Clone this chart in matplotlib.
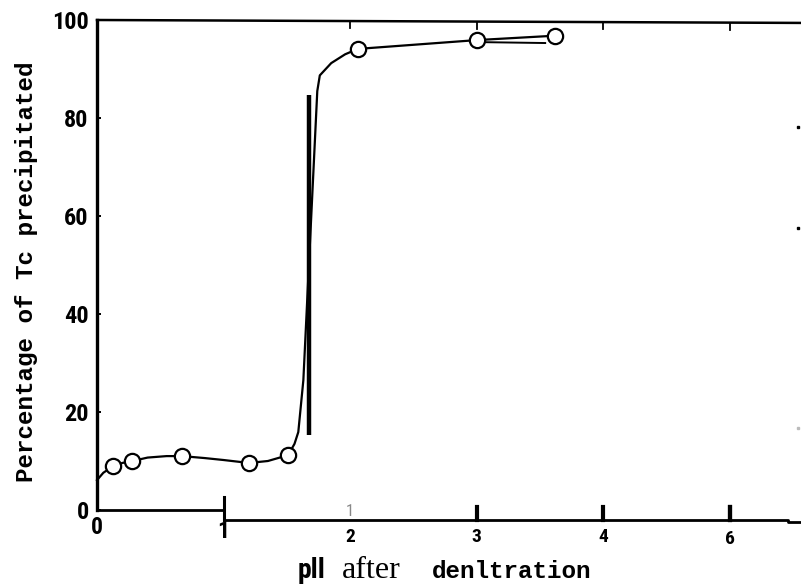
"""
Percentage of Tc precipitated vs pH after denitration (scanned figure redraw).
"""

import numpy as np
import matplotlib
matplotlib.use("Agg")
import matplotlib.pyplot as plt
from matplotlib import font_manager


# =========================
# Data
# =========================

# measured points (open circles)
ph_points = [0.13, 0.28, 0.67, 1.20, 1.51, 2.06, 3.00, 3.62]
tc_points = [9.0, 10.0, 11.0, 9.6, 11.2, 94.1, 95.9, 96.8]

# hand-drawn trend curve
curve_ph = [0.0, 0.05, 0.13, 0.20, 0.28, 0.40, 0.55, 0.67, 0.85, 1.00,
            1.20, 1.35, 1.51, 1.56, 1.59, 1.63, 1.74, 1.76, 1.85, 1.96,
            2.06, 3.00, 3.62]
curve_tc = [6.1, 7.6, 9.0, 9.6, 10.0, 10.7, 11.0, 11.0, 10.6, 10.2,
            9.6, 10.0, 11.2, 13.5, 15.9, 26.5, 85.5, 88.7, 91.2, 93.0,
            94.1, 95.9, 96.8]

# thick vertical bar at the jump
bar_ph = [1.675, 1.675]
bar_tc = [15.3, 84.7]

# second short line under the plateau
plateau_ph = [2.99, 3.54]
plateau_tc = [95.5, 95.3]

y_ticks = [0, 20, 40, 60, 80, 100]
x_tick_pos = [0, 1, 2, 3, 4, 5]
x_tick_labels = ["0", "1", "2", "3", "4", "6"]
x_label_drop = [-3.5, -4.4, -5.5, -5.5, -5.5, -6.0]   # labels sit unevenly in the scan

W, H = 801, 586
PX_PER_X = 126.6


def fx(px):
    return px / W


def fy(py):
    return 1 - py / H


def pick_font(names):
    """Return the first installed family of the list."""
    for name in names:
        try:
            font_manager.findfont(font_manager.FontProperties(family=name),
                                  fallback_to_default=False)
            return name
        except Exception:
            pass
    return "DejaVu Sans"


def main():
    narrow = pick_font(["Liberation Sans Narrow", "DejaVu Sans Condensed",
                        "Roboto Condensed", "Open Sans Condensed",
                        "Noto Sans Condensed", "Arial Narrow"])
    stretch = "normal" if narrow != "DejaVu Sans" else "condensed"

    fig = plt.figure(figsize=(W / 100, H / 100), dpi=100)
    ax = fig.add_axes([fx(97), 1 - 510 / H, (W - 97) / W, 490 / H])
    ax.set_xlim(0, (W - 97) / PX_PER_X)
    ax.set_ylim(0, 100)

    for s in ["top", "right", "bottom"]:
        ax.spines[s].set_visible(False)
    ax.spines["left"].set_linewidth(2.4)

    # y axis ticks and labels
    ax.set_yticks(y_ticks)
    ax.set_yticklabels([str(v) for v in y_ticks], family=narrow,
                       fontweight="bold", fontsize=17.5, fontstretch=stretch)
    ax.tick_params(axis="y", direction="in", length=3, width=1.4, pad=6)
    ax.set_xticks([])

    # broken bottom axis as in the scan
    ax.plot([0, 1], [0, 0], color="black", lw=2.0, clip_on=False)
    ax.plot([1, 1], [2.6, -2.04], color="black", lw=2.2, clip_on=False)
    ax.plot([1, 5.46, 5.46, 5.6], [-2.04, -2.04, -2.45, -2.45],
            color="black", lw=2.0, clip_on=False)
    for xp in x_tick_pos[3:] + [5]:
        ax.plot([xp, xp], [0.6, -2.0], color="black", lw=3.0, clip_on=False)

    # top frame line (slightly tilted) with downward ticks
    ax.plot([0, 5.6], [100, 99.4], color="black", lw=1.8, clip_on=False)
    for xp in [2, 3, 4, 5]:
        ytop = 100 - 0.6 * xp / 5.6
        ax.plot([xp, xp], [ytop, ytop - 1.5], color="black", lw=1.3,
                clip_on=False)

    # faint ticks of the right frame at the cut edge
    ax.plot([5.54], [78.2], "s", ms=2, color="black", clip_on=False)
    ax.plot([5.54], [57.6], "s", ms=2, color="black", clip_on=False)
    ax.plot([5.54], [16.7], "s", ms=1.5, color="#bbbbbb", clip_on=False)

    # x tick labels
    for xp, lab, dy in zip(x_tick_pos, x_tick_labels, x_label_drop):
        size = 17 if lab in ("0", "1") else 14
        ax.text(xp, dy, lab, ha="center", va="center", family=narrow,
                fontstretch=stretch, fontweight="bold", fontsize=size,
                clip_on=False)
    # ghost "1" above the axis near 2
    ax.text(2.0, -0.4, "1", ha="center", va="center", family=narrow,
            fontsize=12, color="#888888", clip_on=False)

    # curve, bar and points
    ax.plot(curve_ph, curve_tc, color="black", lw=1.6, clip_on=False)
    ax.plot(bar_ph, bar_tc, color="black", lw=3.2, solid_capstyle="butt")
    ax.plot(plateau_ph, plateau_tc, color="black", lw=1.4)
    ax.plot(ph_points, tc_points, "o", ms=11, mfc="white", mec="black",
            mew=1.6, clip_on=False, zorder=5)

    # axis titles
    mono = ["Liberation Mono", "DejaVu Sans Mono"]
    fig.text(fx(27), fy(272), "Percentage of Tc precipitated", rotation=90,
             ha="center", va="center", family=mono,
             fontweight="bold", fontsize=17.5)
    fig.text(fx(298), fy(578), "pll", ha="left", va="baseline",
             family=narrow, fontstretch=stretch, fontweight="bold",
             fontsize=20)
    fig.text(fx(342), fy(578), "after", ha="left", va="baseline",
             family=["Liberation Serif", "DejaVu Serif"], fontsize=23)
    fig.text(fx(432), fy(578), "denltration", ha="left", va="baseline",
             family=mono, fontweight="bold", fontsize=17.5)

    fig.savefig("out.png", dpi=100)
    plt.close(fig)


if __name__ == "__main__":
    main()
